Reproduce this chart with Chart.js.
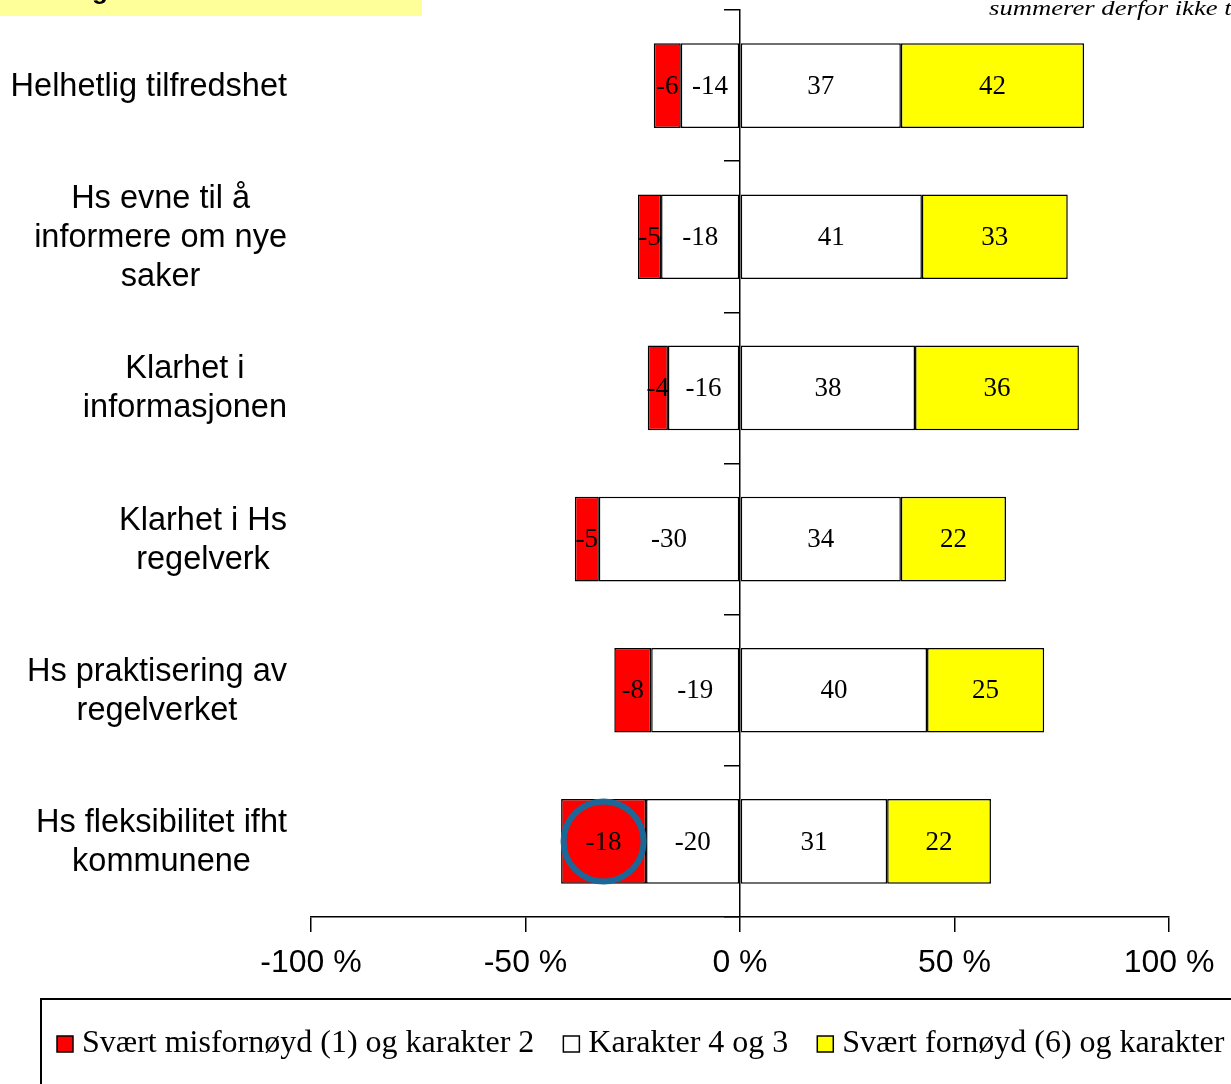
<!DOCTYPE html>
<html>
<head>
<meta charset="utf-8">
<script src="https://cdn.jsdelivr.net/npm/chart.js@4.4.0/dist/chart.umd.min.js"></script>
<style>
  html, body { margin: 0; padding: 0; background: #fff; overflow: hidden; }
  canvas { display: block; }
</style>
</head>
<body>
<canvas id="chart" width="1231" height="1084"></canvas>
<script>
// Kategorier (flere linjer per etikett)
const categories = [
    ['Helhetlig tilfredshet'],
    ['Hs evne til å', 'informere om nye', 'saker'],
    ['Klarhet i', 'informasjonen'],
    ['Klarhet i Hs', 'regelverk'],
    ['Hs praktisering av', 'regelverket'],
    ['Hs fleksibilitet ifht', 'kommunene']
];

// Søylelengder i prosent (skalert, "vet ikke" holdt utenfor)
const misfornoyd = [-6.3, -5.4, -4.7, -5.6, -8.6, -19.8];
const middelsNeg = [-13.8, -18.4, -16.8, -32.9, -20.7, -21.9];
const middelsPos = [37.5, 42.4, 40.8, 37.5, 43.6, 34.3];
const fornoyd = [42.7, 34.0, 38.2, 24.5, 27.3, 24.2];

// Tallene som står skrevet i søylene
const misfornoydTekst = [-6, -5, -4, -5, -8, -18];
const middelsNegTekst = [-14, -18, -16, -30, -19, -20];
const middelsPosTekst = [37, 41, 38, 34, 40, 31];
const fornoydTekst = [42, 33, 36, 22, 25, 22];

const xMin = -100, xMax = 100, xStep = 50;

const legendLabels = ['Svært misfornøyd (1) og karakter 2', 'Karakter 4 og 3', 'Svært fornøyd (6) og karakter 5'];
const legendColors = ['#ff0000', '#ffffff', '#ffff00'];

const sans = '"Liberation Sans", Arial, sans-serif';
const serif = '"Liberation Serif", "Times New Roman", serif';

const extras = {
    id: 'extras',
    afterDatasetsDraw(chart) {
        const ctx = chart.ctx;
        ctx.save();

        // verdier i søylene
        ctx.font = '27px ' + serif;
        ctx.fillStyle = '#000';
        ctx.textAlign = 'center';
        ctx.textBaseline = 'middle';
        chart.data.datasets.forEach((ds, i) => {
            chart.getDatasetMeta(i).data.forEach((bar, j) => {
                const p = bar.getCenterPoint();
                ctx.fillText(String(ds.tekst[j]), p.x, p.y + 1);
            });
        });

        // markering rundt -18
        const p = chart.getDatasetMeta(1).data[5].getCenterPoint();
        ctx.beginPath();
        ctx.arc(p.x, p.y, 40, 0, Math.PI * 2);
        ctx.lineWidth = 6;
        ctx.strokeStyle = '#1b6898';
        ctx.stroke();

        // kategorietiketter, sentrert i blokk, høyrejustert mot x=287
        const yScale = chart.scales.y;
        ctx.font = '32.5px ' + sans;
        const lineH = 39;
        categories.forEach((lines, j) => {
            const w = Math.max(...lines.map(l => ctx.measureText(l).width));
            const cx = 287 - w / 2;
            const cy = yScale.getPixelForValue(j);
            lines.forEach((l, k) => {
                ctx.fillText(l, cx, cy + (k - (lines.length - 1) / 2) * lineH + 1);
            });
        });
        ctx.restore();
    },
    afterDraw(chart) {
        const ctx = chart.ctx;
        ctx.save();

        // gul tittelboks (avkuttet)
        ctx.fillStyle = '#ffff99';
        ctx.fillRect(0, 0, 422, 16);
        ctx.fillStyle = '#000';
        ctx.font = 'bold 26px ' + sans;
        ctx.textBaseline = 'alphabetic';
        ctx.textAlign = 'left';
        const fi = ctx.measureText('Fi').width;
        ctx.fillText('Figur', 92 - fi, -1);

        // kursiv merknad øverst til høyre
        ctx.save();
        ctx.translate(989, 15);
        ctx.scale(1.27, 1);
        ctx.font = 'italic 21px ' + serif;
        ctx.fillText('summerer derfor ikke til 100', 0, 0);
        ctx.restore();

        // forklaring
        ctx.lineWidth = 2;
        ctx.strokeStyle = '#000';
        ctx.strokeRect(41, 999, 1300, 200);
        ctx.font = '32px ' + serif;
        ctx.textBaseline = 'middle';
        let x = 57;
        const y = 1044;
        legendLabels.forEach((lab, i) => {
            ctx.fillStyle = legendColors[i];
            ctx.fillRect(x, y - 8, 16, 16);
            ctx.lineWidth = 1.5;
            ctx.strokeRect(x, y - 8, 16, 16);
            ctx.fillStyle = '#000';
            ctx.fillText(lab, x + 25, y);
            x += 25 + ctx.measureText(lab).width + 29;
        });
        ctx.restore();
    }
};

const barStyle = {
    borderColor: '#000',
    borderWidth: 1.5,
    borderSkipped: false,
    barPercentage: 0.56,
    categoryPercentage: 1
};

new Chart(document.getElementById('chart'), {
    type: 'bar',
    data: {
        labels: categories.map(c => c.join(' ')),
        datasets: [
            { label: legendLabels[1], data: middelsNeg, tekst: middelsNegTekst, backgroundColor: '#ffffff', ...barStyle },
            { label: legendLabels[0], data: misfornoyd, tekst: misfornoydTekst, backgroundColor: '#ff0000', ...barStyle },
            { label: legendLabels[1], data: middelsPos, tekst: middelsPosTekst, backgroundColor: '#ffffff', ...barStyle },
            { label: legendLabels[2], data: fornoyd, tekst: fornoydTekst, backgroundColor: '#ffff00', ...barStyle }
        ]
    },
    options: {
        indexAxis: 'y',
        responsive: false,
        animation: false,
        layout: { padding: { left: 311, right: 62, top: 10, bottom: 87 } },
        plugins: {
            legend: { display: false },
            tooltip: { enabled: false }
        },
        scales: {
            x: {
                stacked: true,
                min: xMin,
                max: xMax,
                afterFit: s => { s.height = 80; },
                ticks: {
                    stepSize: xStep,
                    color: '#000',
                    padding: 12,
                    font: { family: sans, size: 32 },
                    callback: v => v + ' %'
                },
                grid: { drawOnChartArea: false, drawTicks: true, tickLength: 15, tickColor: '#000', lineWidth: 1.5 },
                border: { display: true, color: '#000', width: 1.5 }
            },
            y: {
                stacked: true,
                position: { x: 0 },
                ticks: { display: false },
                grid: { drawOnChartArea: false, drawTicks: true, tickLength: 15, tickColor: '#000', lineWidth: 1.5, offset: true },
                border: { display: true, color: '#000', width: 1.5 }
            }
        }
    },
    plugins: [extras]
});
</script>
</body>
</html>
